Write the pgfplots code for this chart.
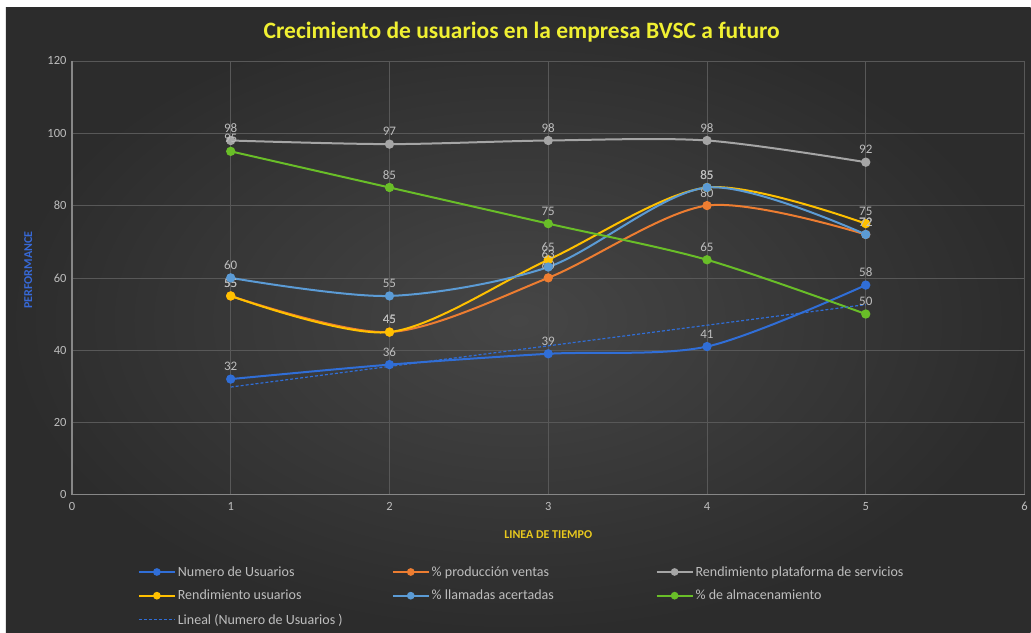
\documentclass[border=0pt]{standalone}
\usepackage{pgfplots}
\pgfplotsset{compat=1.18}
\usepackage{fontspec}
\setmainfont{Carlito}
\definecolor{cblue}{RGB}{48,110,215}
\definecolor{corange}{RGB}{237,125,49}
\definecolor{cgray}{RGB}{165,165,165}
\definecolor{cyellow}{RGB}{255,192,0}
\definecolor{clblue}{RGB}{91,155,213}
\definecolor{cgreen}{RGB}{105,190,40}
\definecolor{labgray}{RGB}{190,190,190}
\definecolor{gridc}{RGB}{88,88,88}
\definecolor{titley}{RGB}{240,240,50}
\definecolor{xlabc}{RGB}{232,200,30}
\definecolor{ylabc}{RGB}{55,105,215}
\begin{document}
\begin{tikzpicture}[x=1pt,y=1pt]
\fill[white] (0,0) rectangle (1031,633);
\shade[inner color={rgb,255:red,70;green,70;blue,70}, outer color={rgb,255:red,44;green,44;blue,44}] (6,0) rectangle (1031,625);
\node[font=\fontsize{23.5}{26}\selectfont\bfseries, text=titley] at (522,601) {Crecimiento de usuarios en la empresa BVSC a futuro};
\begin{axis}[
  at={(72pt,138pt)}, anchor=south west,
  scale only axis, width=953pt, height=434pt,
  xmin=0, xmax=6, ymin=0, ymax=120,
  xtick={0,...,6}, ytick={0,20,...,120},
  axis lines*=left,
  axis line style={draw={rgb,255:red,135;green,135;blue,135}, line width=1.2pt},
  grid=major, major grid style={gridc, line width=0.7pt},
  major tick length=0pt,
  tick label style={text=labgray, font=\fontsize{12.5}{14}\selectfont},
  /pgf/number format/assume math mode=true,
  xticklabel style={yshift=-4pt},
  yticklabel style={xshift=-2pt},
  xlabel={LINEA DE TIEMPO},
  xlabel style={at={(axis description cs:0.5,-0.092)}, anchor=center, text=xlabc, font=\fontsize{12}{14}\selectfont\bfseries},
  ylabel={PERFORMANCE},
  ylabel style={at={(axis description cs:-0.046,0.518)}, anchor=center, rotate=0, text=ylabc, font=\fontsize{12}{14}\selectfont\bfseries},
  every axis plot/.append style={line width=2pt, smooth, tension=0.5, mark=*, mark size=3.6pt},
  nodes near coords,
  every node near coord/.append style={text=labgray, font=\fontsize{13}{15}\selectfont, anchor=south, yshift=4pt},
  legend columns=3,
  legend cell align=left,
  legend style={at={(axis description cs:0.069,-0.160)}, anchor=north west, draw=none, fill=none, text=labgray, font=\fontsize{14}{16}\selectfont, row sep=8.5pt, inner sep=0pt},
  legend image code/.code={\draw[mark repeat=2, mark phase=2, mark size=2.8pt] plot coordinates {(0pt,0pt) (18pt,0pt) (36pt,0pt)};},
]
\addplot[color=cblue, mark options={fill=cblue}] coordinates {(1,32) (2,36) (3,39) (4,41) (5,58)};
\addlegendentry{\makebox[212pt][l]{Numero de Usuarios}}
\addplot[color=corange, mark options={fill=corange}] coordinates {(1,55) (2,45) (3,60) (4,80) (5,72)};
\addlegendentry{\makebox[222pt][l]{\% producción ventas}}
\addplot[color=cgray, mark options={fill=cgray}] coordinates {(1,98) (2,97) (3,98) (4,98) (5,92)};
\addlegendentry{Rendimiento plataforma de servicios}
\addplot[color=cyellow, mark options={fill=cyellow}] coordinates {(1,55) (2,45) (3,65) (4,85) (5,75)};
\addlegendentry{\makebox[212pt][l]{Rendimiento usuarios}}
\addplot[color=clblue, mark options={fill=clblue}] coordinates {(1,60) (2,55) (3,63) (4,85) (5,72)};
\addlegendentry{\makebox[222pt][l]{\% llamadas acertadas}}
\addplot[color=cgreen, mark options={fill=cgreen}] coordinates {(1,95) (2,85) (3,75) (4,65) (5,50)};
\addlegendentry{\% de almacenamiento}
\addplot[color=cblue, line width=1.2pt, dashed, dash pattern=on 3pt off 2pt, mark=none, sharp plot, nodes near coords={}] coordinates {(1,29.8) (5,52.6)};
\addlegendentry{Lineal (Numero de Usuarios )}
\end{axis}
\end{tikzpicture}
\end{document}
